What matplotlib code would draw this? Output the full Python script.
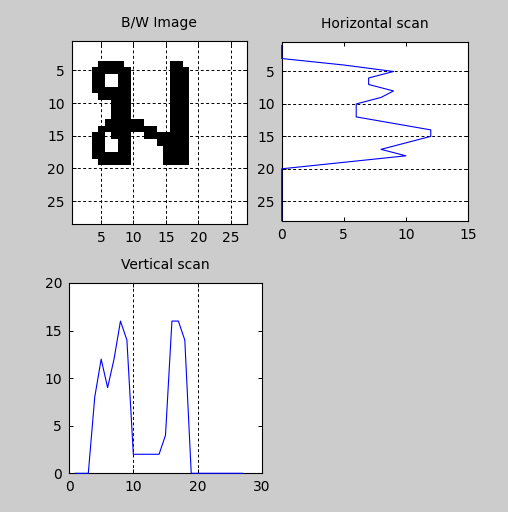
import numpy as np
import matplotlib

matplotlib.use("Agg")
import matplotlib.pyplot as plt

bw_rows = [
    "...........................",
    "...........................",
    "...........................",
    "....####.......##..........",
    "...######......###.........",
    "...##..##......###.........",
    "...##..##......###.........",
    "...######......###.........",
    "....#####......###.........",
    "......###......###.........",
    "......###......###.........",
    "......###......###.........",
    ".....######....###.........",
    "....#########..###.........",
    "...##.###..#######.........",
    "...##..##....#####.........",
    "...##..##.....####.........",
    "...######.....####.........",
    "....#####.....####.........",
    "...........................",
    "...........................",
    "...........................",
    "...........................",
    "...........................",
    "...........................",
    "...........................",
    "...........................",
    "...........................",
]

# horizontal scan (black pixels per row), rows 1..28
row_idx = list(range(1, 29))
h_scan = [0, 0, 0, 5, 9, 7, 7, 9, 8, 6, 6, 6, 9, 12, 12, 10, 8, 10, 5, 0,
          0, 0, 0, 0, 0, 0, 0, 0]

# vertical scan (black pixels per column), cols 1..27
col_idx = list(range(1, 28))
v_scan = [0, 0, 0, 8, 12, 9, 12, 16, 14, 2, 2, 2, 2, 2, 4, 16, 16, 14, 0,
          0, 0, 0, 0, 0, 0, 0, 0]

img_ticks = [5, 10, 15, 20, 25]
h_xticks = [0, 5, 10, 15]
v_xticks = [0, 10, 20, 30]
v_yticks = [0, 5, 10, 15, 20]

W, H = 508, 512
GREY = (0.8, 0.8, 0.8)
BLUE = (0, 0, 1)

plt.rcParams["font.family"] = ["DejaVu Sans"]
plt.rcParams["font.size"] = 10

fig = plt.figure(figsize=(W / 100, H / 100), dpi=100, facecolor=GREY)


def px_axes(left, top, right, bottom):
    """Axes placed by pixel box (origin top-left)."""
    return fig.add_axes([left / W, 1 - bottom / H, (right - left) / W, (bottom - top) / H])


def matlab_style(ax):
    for sp in ax.spines.values():
        sp.set_linewidth(0.8)
        sp.set_color("black")
    ax.tick_params(direction="in", length=3, width=0.7, top=True, right=True,
                   labelsize=10, pad=5, colors="black")


def dashed_grid(ax, axis):
    ax.grid(True, axis=axis, color="black", linestyle=(0, (3, 2.5)), linewidth=0.7)
    ax.set_axisbelow(False)


# --- B/W image ---
img = np.array([[0.0 if ch == "#" else 1.0 for ch in r] for r in bw_rows])
ax1 = px_axes(71.7, 41, 247, 224)
ax1.imshow(img, cmap="gray", vmin=0, vmax=1, interpolation="nearest", aspect="auto",
           extent=(0.5, img.shape[1] + 0.5, img.shape[0] + 0.5, 0.5))
ax1.set_xlim(0.5, img.shape[1] + 0.5)
ax1.set_ylim(img.shape[0] + 0.5, 0.5)
ax1.set_xticks(img_ticks)
ax1.set_yticks(img_ticks)
matlab_style(ax1)
dashed_grid(ax1, "both")
ax1.set_title("B/W Image", fontsize=10, pad=10)

# --- horizontal scan ---
ax2 = px_axes(281.7, 42.3, 468, 220.7)
ax2.set_facecolor("white")
ax2.plot(h_scan, row_idx, color=BLUE, linewidth=0.8, zorder=3, clip_on=False)
ax2.set_xlim(0, 15)
ax2.set_ylim(28, 0.5)
ax2.set_xticks(h_xticks)
ax2.set_yticks(img_ticks)
matlab_style(ax2)
dashed_grid(ax2, "y")
ax2.set_title("Horizontal scan", fontsize=10, pad=10)

# --- vertical scan ---
ax3 = px_axes(69, 283, 262, 473.3)
ax3.set_facecolor("white")
ax3.plot(col_idx, v_scan, color=BLUE, linewidth=0.8, zorder=3, clip_on=False)
ax3.set_xlim(0, 30)
ax3.set_ylim(0, 20)
ax3.set_xticks(v_xticks)
ax3.set_yticks(v_yticks)
matlab_style(ax3)
dashed_grid(ax3, "x")
ax3.set_title("Vertical scan", fontsize=10, pad=10)

fig.savefig("out.png", dpi=100, facecolor=GREY)
